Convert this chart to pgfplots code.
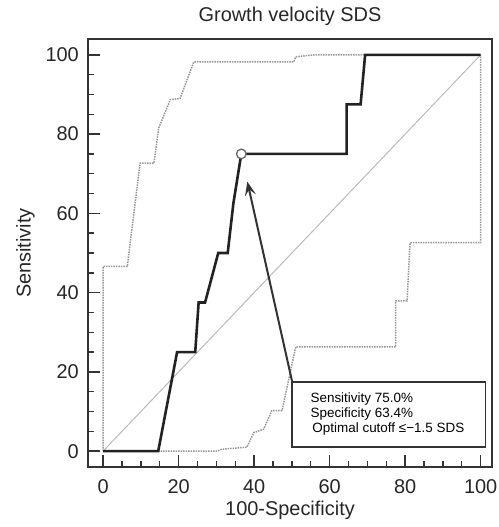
\documentclass[border=0pt]{standalone}
\usepackage{pgfplots}
\pgfplotsset{compat=1.18}
\usetikzlibrary{arrows.meta}
\usepackage{fontspec}
\setmainfont{Liberation Sans}

\definecolor{frame}{HTML}{333333}
\definecolor{roc}{HTML}{222222}
\definecolor{ci}{HTML}{969696}
\definecolor{diag}{HTML}{BBBBBB}

% ROC curve and its 95% confidence bounds
\pgfplotstableread{
x y
0 0
14.6 0
19.6 25
24.4 25
25.3 37.5
27 37.5
30.5 50
33 50
34.5 62.5
36.6 75
64.5 75
64.5 87.5
68.2 87.5
69.4 100
100 100
}\rocdata

\pgfplotstableread{
x y
0 0
0 46.6
6.4 46.6
9.8 72.7
13.5 72.7
14.7 81.5
17.8 88.7
20.4 89
24 98.2
50.5 98.2
51 99.5
56 100
100 100
}\upperci

\pgfplotstableread{
x y
0 0
30.2 0
31.5 0.5
38.1 1
39.9 4.7
42.5 5.5
44.7 10.2
47.4 10.2
51 26.3
77.5 26.3
77.5 37.9
80.5 37.9
81.3 52.6
100 52.6
100 100
}\lowerci

\begin{document}
\begin{tikzpicture}
\begin{axis}[
    name=ax,
    scale only axis,
    width=404bp, height=428bp,
    xmin=-4, xmax=103,
    ymin=-4, ymax=104,
    xtick={0,20,...,100},
    ytick={0,20,...,100},
    minor tick num=3,
    tick pos=left,
    tick align=inside,
    major tick length=12bp,
    minor tick length=6bp,
    every tick/.style={frame, line width=1.4bp},
    axis line style={frame, line width=1.8bp},
    /pgf/number format/assume math mode=true,
    ticklabel style={font=\fontsize{20}{24}\selectfont, text=black!85},
    xticklabel style={anchor=base, inner sep=0pt, yshift=-26bp},
    yticklabel style={anchor=east, inner sep=0pt, xshift=-9bp},
    title={Growth velocity SDS},
    title style={at={(axis description cs:0.5,1.028)}, anchor=base,
        font=\fontsize{20}{24}\selectfont, text=black!85},
    xlabel={100-Specificity},
    xlabel style={at={(axis description cs:0.5,-0.113)}, anchor=base,
        font=\fontsize{20}{24}\selectfont, text=black!85},
    ylabel={Sensitivity},
    ylabel style={at={(axis description cs:-0.142,0.5)}, anchor=base,
        font=\fontsize{20}{24}\selectfont, text=black!85},
    clip=false,
]
\addplot[diag, line width=1bp] coordinates {(0,0) (100,100)};
\addplot[ci, line width=1.5bp, dash pattern=on 1.5bp off 1bp] table {\upperci};
\addplot[ci, line width=1.5bp, dash pattern=on 1.5bp off 1bp] table {\lowerci};
\addplot[roc, line width=2.6bp] table {\rocdata};
\addplot[only marks, mark=*, mark size=4.8bp,
    mark options={fill=white, draw=black!60, line width=1.3bp}]
    coordinates {(36.6,75)};

\draw[frame, line width=2bp, -{Stealth[length=14bp, width=11bp, inset=6bp]}]
    (axis cs:50.1,17.4) -- (axis cs:38.2,68);
\draw[frame, line width=1.8bp, fill=white]
    (axis cs:50.1,17.4) rectangle (axis cs:101.3,1.0);
\node[anchor=base west, inner sep=0pt, font=\fontsize{13.5}{16}\selectfont]
    at (axis cs:54.9,12.3) {Sensitivity 75.0\%};
\node[anchor=base west, inner sep=0pt, font=\fontsize{13.5}{16}\selectfont]
    at (axis cs:54.9,8.5) {Specificity 63.4\%};
\node[anchor=base west, inner sep=0pt, font=\fontsize{13.5}{16}\selectfont]
    at (axis cs:55.4,4.7) {Optimal cutoff ≤−1.5 SDS};
\end{axis}
\pgfresetboundingbox
\path ([xshift=-88bp,yshift=-60bp]ax.south west) rectangle ([xshift=7bp,yshift=39bp]ax.north east);
\end{tikzpicture}
\end{document}
